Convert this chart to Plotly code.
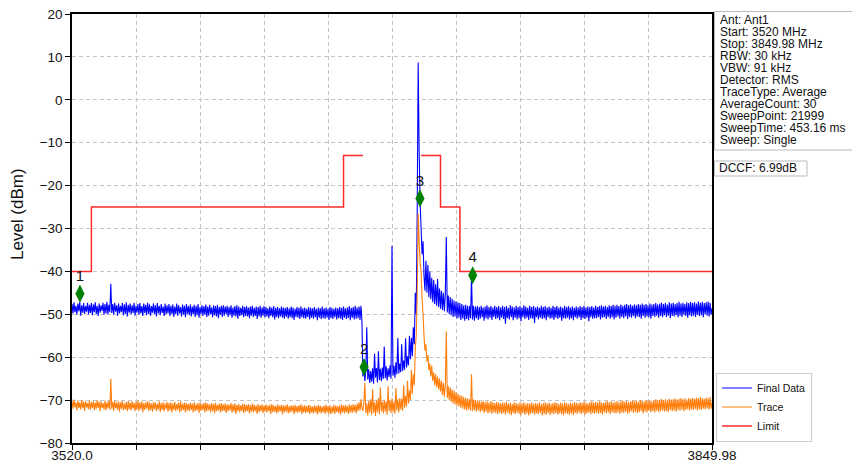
import numpy as np
import plotly.graph_objects as go

# ---------------- data ----------------
start_mhz = 3520.0
stop_mhz = 3849.98

# Final Data (blue), read every 0.5 MHz across the sweep (rows of 10 MHz)
final_data = [
    -47.6, -49.8, -47.2, -49.5, -48.0, -50.1, -47.5, -49.3, -47.1, -50.3, -47.9, -49.6, -47.4, -49.9, -48.1, -49.4, -47.3, -50.0, -47.8, -49.7,
    -47.4, -50.2, -47.7, -49.5, -47.2, -49.9, -48.0, -50.4, -47.5, -49.6, -47.9, -49.2, -47.3, -50.1, -47.6, -49.8, -47.1, -50.0, -47.8, -49.5,
    -42.9, -49.7, -47.6, -50.1, -47.3, -49.4, -47.9, -50.3, -47.5, -49.8, -48.0, -49.5, -47.4, -50.2, -47.7, -49.9, -47.2, -50.5, -47.8, -49.6,
    -47.5, -50.0, -47.9, -49.7, -47.3, -50.3, -48.0, -49.6, -47.6, -50.1, -47.4, -49.8, -48.1, -50.4, -47.5, -49.7, -47.8, -50.2, -47.3, -49.9,
    -47.7, -50.3, -48.1, -49.6, -47.5, -50.0, -47.9, -50.5, -47.4, -49.8, -48.0, -50.2, -47.6, -49.7, -48.2, -50.4, -47.5, -50.0, -47.9, -49.8,
    -47.6, -50.4, -48.0, -49.9, -47.7, -50.6, -48.2, -50.0, -47.5, -50.3, -47.9, -49.8, -48.3, -50.5, -47.7, -50.1, -48.0, -50.7, -47.6, -49.9,
    -48.1, -50.2, -47.7, -50.5, -48.2, -49.9, -47.8, -50.6, -48.0, -50.2, -47.6, -50.8, -48.3, -50.0, -47.9, -50.4, -48.1, -50.1, -47.7, -50.6,
    -48.2, -50.3, -47.8, -50.0, -48.4, -50.7, -47.9, -50.2, -48.1, -50.5, -47.8, -50.9, -48.3, -50.1, -48.0, -50.6, -47.9, -50.3, -48.2, -50.0,
    -48.0, -50.6, -48.3, -50.2, -47.9, -50.8, -48.4, -50.3, -48.1, -50.5, -47.9, -51.0, -48.2, -50.4, -48.5, -50.2, -48.0, -50.7, -48.3, -50.4,
    -48.1, -50.5, -48.4, -50.9, -48.2, -50.3, -48.0, -50.6, -48.5, -50.4, -48.2, -51.1, -48.3, -50.5, -48.0, -50.8, -48.4, -50.3, -48.1, -50.7,
    -48.3, -50.5, -48.6, -50.9, -48.2, -50.4, -48.4, -50.7, -48.1, -51.2, -48.5, -50.6, -48.3, -50.9, -48.6, -50.5, -48.2, -50.8, -48.4, -51.0,
    -48.5, -50.6, -48.3, -51.0, -48.6, -50.7, -48.2, -50.9, -48.4, -51.3, -48.7, -50.6, -48.3, -50.8, -48.5, -51.1, -48.2, -50.7, -48.6, -50.9,
    -48.4, -51.0, -48.7, -50.6, -48.3, -51.2, -48.5, -50.8, -48.6, -51.0, -48.3, -50.7, -48.7, -51.4, -48.4, -50.8, -48.6, -51.1, -48.2, -50.9,
    -48.6, -51.0, -48.4, -50.8, -48.7, -51.3, -48.3, -50.9, -48.5, -51.1, -48.7, -50.7, -48.4, -51.2, -48.6, -50.9, -48.3, -51.0, -48.5, -51.3,
    -48.2, -50.8, -48.6, -51.1, -48.4, -50.9, -48.1, -51.4, -48.5, -50.8, -48.3, -51.2, -48.0, -51.0, -48.4, -50.9, -48.2, -51.3, -48.0, -51.6,
    -64.5, -62.3, -65.6, -63.0, -53.0, -65.2, -62.8, -66.0, -63.2, -65.7, -62.6, -66.2, -59.2, -64.8, -62.5, -65.9, -58.6, -65.3, -62.7, -65.6,
    -62.4, -65.1, -57.5, -64.9, -62.1, -65.4, -62.6, -64.6, -61.9, -65.0, -34.0, -64.3, -62.0, -64.8, -61.2, -64.0, -55.5, -63.8, -61.5, -63.5,
    -57.0, -63.2, -60.8, -62.9, -55.6, -62.4, -59.8, -61.9, -55.0, -60.5, -55.5, -59.8, -53.0, -57.0, -45.0, -50.0, -26.0, 8.7, -12.0, -24.0,
    -30.0, -36.0, -33.0, -41.0, -44.5, -37.5, -45.0, -38.5, -46.0, -40.0, -46.5, -41.5, -47.2, -42.0, -47.6, -43.0, -48.0, -41.8, -48.3, -44.0,
    -48.7, -44.5, -49.0, -45.0, -49.3, -45.2, -32.0, -49.6, -45.6, -50.0, -46.0, -50.2, -46.4, -50.6, -46.8, -50.5, -47.0, -51.0, -47.2, -50.8,
    -47.4, -51.3, -47.6, -51.0, -47.9, -51.5, -47.8, -51.1, -48.0, -51.4, -48.1, -50.9, -41.0, -51.2, -48.0, -51.5, -48.2, -50.9, -48.1, -51.3,
    -48.3, -51.0, -48.0, -50.7, -48.4, -51.5, -48.2, -50.9, -47.9, -51.2, -48.3, -50.8, -48.1, -51.3, -48.4, -50.6, -48.0, -51.1, -48.3, -50.9,
    -48.1, -51.4, -48.4, -50.8, -48.0, -51.1, -48.3, -52.2, -48.1, -50.9, -48.5, -51.2, -47.9, -50.7, -48.2, -51.4, -48.4, -50.8, -48.0, -51.2,
    -48.3, -50.9, -48.1, -51.6, -48.4, -50.7, -47.9, -51.1, -48.2, -50.8, -48.5, -51.3, -48.0, -50.9, -48.3, -51.0, -48.1, -52.0, -48.4, -50.7,
    -48.2, -51.2, -48.5, -50.8, -48.0, -51.1, -48.3, -50.9, -48.1, -51.4, -48.4, -50.7, -48.2, -51.0, -48.5, -50.9, -48.0, -51.3, -48.3, -50.8,
    -48.1, -51.1, -48.4, -50.8, -48.2, -51.5, -48.5, -50.9, -48.0, -51.0, -48.3, -50.8, -48.1, -51.2, -48.4, -50.9, -48.2, -51.4, -48.5, -50.7,
    -48.2, -51.0, -48.4, -50.7, -48.1, -51.3, -48.3, -50.9, -48.0, -51.1, -48.4, -50.8, -48.2, -51.6, -48.3, -50.7, -48.1, -51.0, -48.4, -50.9,
    -48.0, -50.9, -48.3, -50.6, -48.1, -51.2, -47.9, -50.8, -48.2, -50.7, -48.0, -51.1, -48.3, -50.6, -47.9, -51.0, -48.1, -50.7, -47.8, -51.2,
    -48.0, -50.8, -47.8, -50.5, -48.1, -51.0, -47.7, -50.6, -48.0, -50.9, -47.8, -50.5, -47.6, -51.1, -47.9, -50.6, -47.7, -50.8, -48.0, -50.4,
    -47.7, -50.9, -47.9, -50.5, -47.6, -50.7, -47.8, -51.0, -47.5, -50.4, -47.8, -50.8, -47.6, -50.5, -47.9, -50.7, -47.5, -51.0, -47.7, -50.4,
    -47.6, -50.6, -47.4, -50.3, -47.7, -50.8, -47.5, -50.4, -47.3, -50.7, -47.6, -50.2, -47.4, -50.6, -47.7, -50.3, -47.2, -50.9, -47.5, -50.4,
    -47.3, -50.5, -47.6, -50.2, -47.4, -50.7, -47.1, -50.3, -47.5, -50.6, -47.3, -50.1, -47.6, -50.4, -47.2, -50.8, -47.4, -50.2, -47.1, -50.5,
    -47.4, -50.3, -47.2, -50.6, -47.5, -50.1, -47.0, -50.4, -47.3, -50.2, -47.1, -50.7, -47.4, -50.0, -47.2, -50.3, -47.0, -50.5, -47.3, -50.1,
    -48.6,
]

# Trace (orange), read every 0.5 MHz across the sweep (rows of 10 MHz)
trace_data = [
    -70.3, -72.0, -69.9, -71.7, -70.5, -72.4, -70.1, -71.8, -70.6, -72.2, -70.0, -71.9, -70.4, -72.5, -70.2, -71.7, -70.7, -72.1, -70.1, -72.3,
    -70.5, -71.8, -70.2, -72.4, -70.6, -72.0, -70.0, -71.9, -70.4, -72.6, -70.3, -71.8, -70.7, -72.2, -70.1, -72.4, -70.5, -71.9, -70.2, -72.3,
    -65.0, -72.0, -70.4, -72.5, -70.1, -71.9, -70.6, -72.3, -70.3, -72.7, -70.5, -72.0, -70.2, -72.4, -70.8, -72.1, -70.4, -72.6, -70.2, -72.2,
    -70.6, -72.4, -70.3, -72.0, -70.7, -72.6, -70.4, -72.2, -70.1, -72.5, -70.6, -72.1, -70.3, -72.8, -70.7, -72.3, -70.5, -72.0, -70.2, -72.6,
    -70.5, -72.3, -70.8, -72.7, -70.4, -72.1, -70.6, -72.5, -70.9, -72.2, -70.3, -72.8, -70.7, -72.3, -70.5, -72.6, -70.8, -72.1, -70.4, -72.7,
    -70.7, -72.4, -70.5, -72.9, -70.8, -72.3, -70.4, -72.6, -70.9, -72.2, -70.6, -72.8, -70.3, -72.5, -70.8, -72.3, -70.6, -72.9, -70.7, -72.4,
    -70.9, -72.5, -70.6, -72.3, -70.8, -72.9, -70.5, -72.6, -71.0, -72.4, -70.7, -73.0, -70.6, -72.5, -70.9, -72.3, -70.7, -72.8, -70.5, -72.6,
    -70.8, -72.4, -71.0, -72.9, -70.7, -72.5, -70.9, -73.1, -70.6, -72.6, -71.1, -72.4, -70.8, -72.9, -70.7, -72.6, -71.0, -72.5, -70.8, -73.0,
    -70.9, -72.6, -71.1, -72.4, -70.7, -72.9, -71.0, -72.7, -70.8, -73.2, -71.1, -72.6, -70.9, -72.8, -71.2, -72.5, -70.8, -73.0, -71.0, -72.7,
    -71.1, -72.6, -70.9, -73.1, -71.2, -72.7, -70.8, -72.9, -71.1, -72.6, -71.3, -73.2, -70.9, -72.8, -71.2, -72.6, -71.0, -73.0, -71.3, -72.7,
    -71.0, -72.9, -71.3, -72.6, -71.1, -73.2, -70.9, -72.8, -71.2, -72.7, -71.4, -73.1, -71.0, -72.8, -71.3, -72.6, -71.1, -73.3, -71.2, -72.8,
    -71.3, -72.7, -71.0, -73.1, -71.4, -72.9, -71.2, -72.7, -71.3, -73.3, -71.1, -72.8, -71.4, -73.0, -71.2, -72.7, -71.0, -73.2, -71.3, -72.9,
    -71.2, -73.0, -71.4, -72.8, -71.1, -73.3, -71.3, -72.9, -71.5, -73.1, -71.2, -72.8, -71.4, -73.4, -71.1, -72.9, -71.3, -73.1, -71.5, -72.8,
    -71.3, -73.2, -71.1, -72.9, -71.4, -73.1, -71.2, -73.3, -71.5, -72.9, -71.1, -73.2, -71.3, -72.8, -71.4, -73.0, -71.2, -73.4, -71.0, -72.9,
    -71.3, -73.1, -71.1, -72.8, -71.4, -73.2, -71.0, -72.9, -71.2, -73.0, -70.9, -72.7, -71.1, -73.1, -70.8, -72.6, -70.5, -72.4, -69.8, -71.9,
    -72.5, -70.4, -66.0, -73.0, -70.8, -73.6, -70.2, -72.9, -69.8, -73.4, -67.5, -73.0, -70.5, -73.7, -70.0, -72.8, -69.5, -73.3, -67.0, -72.6,
    -70.4, -73.1, -69.9, -72.7, -70.3, -73.4, -66.8, -72.5, -70.1, -73.0, -69.6, -72.8, -70.4, -73.2, -67.2, -72.4, -69.8, -72.9, -69.5, -72.2,
    -69.7, -72.5, -66.5, -71.8, -69.0, -71.5, -65.5, -70.8, -67.8, -70.0, -63.0, -68.5, -64.0, -66.5, -58.0, -55.0, -45.0, -26.5, -33.0, -38.0,
    -40.0, -46.0, -50.0, -55.0, -58.5, -57.0, -61.0, -59.5, -63.0, -61.5, -64.5, -62.0, -65.5, -63.5, -66.5, -64.0, -67.0, -64.5, -67.5, -65.0,
    -68.0, -65.5, -68.8, -66.0, -69.2, -66.5, -54.0, -69.5, -66.8, -70.0, -67.0, -70.4, -67.5, -70.8, -67.8, -71.0, -68.2, -71.3, -68.5, -71.5,
    -68.8, -71.8, -69.0, -72.0, -69.2, -72.2, -69.5, -72.4, -69.6, -72.1, -69.8, -72.5, -64.0, -72.6, -69.9, -72.3, -70.0, -72.7, -70.1, -72.4,
    -70.2, -72.8, -70.4, -72.5, -70.1, -73.0, -70.5, -72.7, -70.3, -73.1, -70.6, -72.8, -70.2, -73.2, -70.5, -72.9, -70.7, -73.0, -70.4, -73.3,
    -70.6, -72.9, -70.8, -73.3, -70.5, -73.0, -70.7, -73.4, -70.4, -72.9, -70.8, -73.2, -70.6, -73.5, -70.9, -73.0, -70.5, -73.3, -70.7, -72.9,
    -70.9, -73.2, -70.6, -73.5, -70.8, -73.0, -70.5, -73.4, -70.9, -73.1, -70.7, -73.6, -70.8, -73.2, -70.6, -73.0, -70.9, -73.4, -70.7, -73.1,
    -70.8, -73.3, -70.6, -73.0, -70.9, -73.6, -70.7, -73.2, -70.5, -73.4, -70.8, -73.0, -70.6, -73.5, -70.9, -73.1, -70.7, -73.3, -70.5, -73.0,
    -70.7, -73.4, -70.9, -73.1, -70.6, -73.3, -70.8, -73.6, -70.5, -73.0, -70.7, -73.2, -70.9, -73.4, -70.6, -73.1, -70.8, -73.5, -70.5, -73.0,
    -70.6, -73.2, -70.8, -72.9, -70.5, -73.3, -70.7, -73.0, -70.4, -73.4, -70.6, -73.1, -70.8, -72.9, -70.5, -73.3, -70.3, -73.0, -70.6, -73.2,
    -70.4, -72.9, -70.6, -73.2, -70.3, -73.0, -70.5, -73.4, -70.7, -72.8, -70.4, -73.1, -70.2, -72.9, -70.5, -73.3, -70.3, -72.8, -70.6, -73.0,
    -70.4, -73.1, -70.2, -72.8, -70.5, -73.2, -70.3, -72.9, -70.1, -73.0, -70.4, -72.7, -70.2, -73.2, -70.5, -72.9, -70.3, -72.6, -70.1, -73.0,
    -70.3, -72.7, -70.1, -73.0, -70.4, -72.8, -70.0, -72.6, -70.2, -73.1, -70.3, -72.7, -69.9, -72.9, -70.2, -72.5, -70.0, -72.8, -70.3, -72.6,
    -70.1, -72.9, -69.8, -72.5, -70.0, -72.8, -69.9, -72.6, -69.7, -72.4, -70.0, -72.7, -69.8, -72.5, -70.1, -72.8, -69.7, -72.3, -69.9, -72.6,
    -69.8, -72.4, -69.6, -72.7, -69.9, -72.3, -69.7, -72.5, -69.5, -72.2, -69.8, -72.6, -69.6, -72.3, -69.9, -72.1, -69.5, -72.4, -69.7, -72.2,
    -69.5, -72.3, -69.7, -72.0, -69.4, -72.4, -69.6, -72.1, -69.3, -72.3, -69.5, -72.0, -69.7, -72.2, -69.4, -71.9, -69.6, -72.2, -69.3, -72.0,
    -70.5,
]

# sweep sample positions (uniform between start and stop)
freq_final = np.linspace(start_mhz, stop_mhz, len(final_data))
freq_trace = np.linspace(start_mhz, stop_mhz, len(trace_data))

limit_freq = [3520.0, 3530.0, 3530.0, 3660.0, 3660.0, 3670.0, None,
              3700.0, 3710.0, 3710.0, 3720.0, 3720.0, 3849.98]
limit_level = [-40, -40, -25, -25, -13, -13, None,
               -13, -13, -25, -25, -40, -40]

marker_freq = [3524.1, 3670.6, 3699.4, 3726.6]
marker_level = [-45.2, -62.3, -23.0, -40.9]
marker_labels = ["1", "2", "3", "4"]

x_tickvals = [3520.0, 3552.998, 3585.996, 3618.994, 3651.992, 3684.99,
              3717.988, 3750.986, 3783.984, 3816.982, 3849.98]
x_ticktext = ["3520.0", "", "", "", "", "", "", "", "", "", "3849.98"]

y_title = "Level (dBm)"

info_lines = [
    "Ant: Ant1",
    "Start: 3520 MHz",
    "Stop: 3849.98 MHz",
    "RBW: 30 kHz",
    "VBW: 91 kHz",
    "Detector: RMS",
    "TraceType: Average",
    "AverageCount: 30",
    "SweepPoint: 21999",
    "SweepTime: 453.16 ms",
    "Sweep: Single",
]
dccf_text = "DCCF: 6.99dB"

# ---------------- figure ----------------
OFF = 8                      # page body margin of the html page
W, H = 852, 455
ML, MR, MT, MB = 64, 148, 6, 20
PW, PH = W - ML - MR, H - MT - MB   # 640 x 429


def px_x(p):
    """page pixel x -> paper coordinate"""
    return (p - OFF - ML) / PW


def px_y(p):
    """page pixel y -> paper coordinate"""
    return (H - MB - (p - OFF)) / PH


FONT = "Liberation Sans, Arial, sans-serif"

fig = go.Figure()
fig.add_trace(go.Scatter(x=freq_final, y=final_data, mode="lines", name="Final Data",
                         line=dict(color="#0000ff", width=1.1, simplify=False)))
fig.add_trace(go.Scatter(x=freq_trace, y=trace_data, mode="lines", name="Trace",
                         line=dict(color="#ff7f0e", width=1.1, simplify=False)))
fig.add_trace(go.Scatter(x=limit_freq, y=limit_level, mode="lines", name="Limit",
                         connectgaps=False,
                         line=dict(color="#ff2a2a", width=1.5)))
fig.add_trace(go.Scatter(x=marker_freq, y=marker_level, mode="markers+text",
                         text=marker_labels, textposition="top center",
                         textfont=dict(family=FONT, size=15, color="#111111"),
                         marker=dict(symbol="diamond-tall", size=13, color="#008000"),
                         showlegend=False))

shapes = []
annotations = []

# y-axis title (placed where the reference shows it)
annotations.append(dict(xref="paper", yref="paper", x=px_x(17), y=px_y(214),
                        xanchor="center", yanchor="middle", textangle=-90,
                        text=y_title, showarrow=False,
                        font=dict(family=FONT, size=17, color="#111111")))

# info box
shapes.append(dict(type="rect", xref="paper", yref="paper",
                   x0=px_x(714.5), x1=px_x(858.5), y0=px_y(150), y1=px_y(11.5),
                   line=dict(color="#bbbbbb", width=1), fillcolor="white"))
for k, line in enumerate(info_lines):
    annotations.append(dict(xref="paper", yref="paper", x=px_x(718.5),
                            y=px_y(20.3 + 11.94 * k), xanchor="left", yanchor="middle",
                            text=line, showarrow=False, borderpad=0,
                            font=dict(family=FONT, size=12, color="#111111")))
# DCCF box
shapes.append(dict(type="rect", xref="paper", yref="paper",
                   x0=px_x(714.5), x1=px_x(807), y0=px_y(176), y1=px_y(161),
                   line=dict(color="#bbbbbb", width=1), fillcolor="white"))
annotations.append(dict(xref="paper", yref="paper", x=px_x(718),
                        y=px_y(168.5), xanchor="left", yanchor="middle",
                        text=dccf_text, showarrow=False, borderpad=0,
                        font=dict(family=FONT, size=12, color="#111111")))

fig.update_layout(
    width=W, height=H,
    margin=dict(l=ML, r=MR, t=MT, b=MB, pad=0, autoexpand=False),
    paper_bgcolor="white", plot_bgcolor="white",
    font=dict(family=FONT, color="#111111"),
    shapes=shapes, annotations=annotations,
    legend=dict(x=px_x(716), y=px_y(441.5), xanchor="left", yanchor="bottom",
                bgcolor="white", bordercolor="#cccccc", borderwidth=1,
                font=dict(family=FONT, size=10.5, color="#111111"),
                tracegroupgap=0, itemwidth=30),
)

fig.update_xaxes(range=[start_mhz, stop_mhz], tickmode="array",
                 tickvals=x_tickvals, ticktext=x_ticktext, automargin=False,
                 ticks="outside", ticklen=5, tickwidth=1, tickcolor="black",
                 showline=True, linecolor="black", linewidth=1.5, mirror=True,
                 showgrid=True, gridcolor="#c4c4c4", griddash="4px,3px", gridwidth=1,
                 tickfont=dict(family=FONT, size=13.5, color="#111111"),
                 ticklabelstandoff=-6, ticklabeloverflow="allow",
                 zeroline=False)
fig.update_yaxes(range=[-80, 20], dtick=10, tick0=-80, automargin=False,
                 ticks="outside", ticklen=5, tickwidth=1, tickcolor="black",
                 showline=True, linecolor="black", linewidth=1.5, mirror=True,
                 showgrid=True, gridcolor="#c4c4c4", griddash="4px,3px", gridwidth=1,
                 tickfont=dict(family=FONT, size=13.5, color="#111111"),
                 ticklabeloverflow="allow",
                 zeroline=False)

fig.write_html("out.html")
